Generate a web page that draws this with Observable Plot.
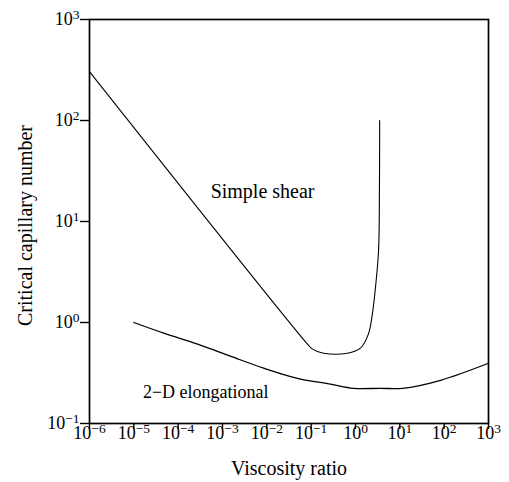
<!DOCTYPE html>
<html><head><meta charset="utf-8">
<script src="https://cdn.jsdelivr.net/npm/d3@7"></script>
<script src="https://cdn.jsdelivr.net/npm/@observablehq/plot@0.6"></script>
<style>body{margin:0;background:#fff} svg{display:block}</style>
</head><body><div id="chart"></div>
<script>
// Tick values
const xTicks = [1e-6, 1e-5, 1e-4, 1e-3, 1e-2, 1e-1, 1, 10, 100, 1000];
const yTicks = [0.1, 1, 10, 100, 1000];

// Simple shear curve (viscosity ratio, critical capillary number)
const shearX = [1e-6, 0.083, 0.107, 0.19, 0.66, 1.29, 1.95, 2.40, 2.82, 3.31, 3.47, 3.51];
const shearY = [305, 0.61, 0.545, 0.497, 0.497, 0.557, 0.767, 1.21, 2.22, 5.13, 23.4, 100];

// 2-D elongational curve
const elongX = [1e-5, 4.7e-5, 2.75e-4, 1.5e-3, 8.5e-3, 0.049, 0.275, 0.91, 3.6, 11.5, 83, 1000];
const elongY = [1.0, 0.785, 0.61, 0.465, 0.353, 0.28, 0.245, 0.223, 0.223, 0.223, 0.268, 0.395];

// Curve labels
const labelText = ["Simple shear", "2\u2212D elongational"];
const labelX = [5.4e-4, 1.6e-5];
const labelY = [17.1, 0.178];

const xLabel = "Viscosity ratio";
const yLabel = "Critical capillary number";

const shear = shearX.map((x, i) => ({x, y: shearY[i]}));
const elong = elongX.map((x, i) => ({x, y: elongY[i]}));
const labels = labelText.map((t, i) => ({t, x: labelX[i], y: labelY[i]}));

const fmt = d => "10^" + Math.round(Math.log10(d));

const chart = Plot.plot({
  width: 509,
  height: 482,
  marginLeft: 89,
  marginRight: 21,
  marginTop: 19,
  marginBottom: 59,
  style: {fontFamily: "'Liberation Serif', serif", fontSize: "17px", background: "#fff", color: "#000"},
  x: {type: "log", domain: [1e-6, 1e3]},
  y: {type: "log", domain: [0.1, 1000]},
  marks: [
    Plot.frame({stroke: "#000", strokeWidth: 1.7}),
    Plot.axisX(xTicks, {tickFormat: fmt, tickSize: 6, tickPadding: -3, label: null, strokeWidth: 1.4}),
    Plot.axisY(yTicks, {tickFormat: fmt, tickSize: 9, tickPadding: 1, label: null, strokeWidth: 1.4}),
    Plot.line(shear, {x: "x", y: "y", stroke: "#000", strokeWidth: 1.1, curve: "catmull-rom"}),
    Plot.line(elong, {x: "x", y: "y", stroke: "#000", strokeWidth: 1.3, curve: "catmull-rom"}),
    Plot.text(labels.slice(0, 1), {x: "x", y: "y", text: "t", fontSize: 20, textAnchor: "start", lineAnchor: "bottom"}),
    Plot.text(labels.slice(1), {x: "x", y: "y", text: "t", fontSize: 18, textAnchor: "start", lineAnchor: "bottom"}),
    Plot.text([xLabel], {text: d => d, frameAnchor: "bottom", textAnchor: "middle", dy: 51, lineAnchor: "bottom", fontSize: 20}),
    Plot.text([yLabel], {text: d => d, frameAnchor: "left", textAnchor: "middle", rotate: -90, dx: -58, dy: 4, lineAnchor: "bottom", fontSize: 20})
  ]
});

// superscript exponents in tick labels
const ns = "http://www.w3.org/2000/svg";
chart.querySelectorAll('g[aria-label="x-axis tick label"], g[aria-label="y-axis tick label"]').forEach(g => {
  g.setAttribute("font-size", "18");
  g.style.fontSize = "18px";
});
chart.querySelectorAll('g[aria-label="x-axis tick label"] text, g[aria-label="y-axis tick label"] text').forEach(t => {
  const s = t.textContent;
  if (!s.includes("^")) return;
  const [base, exp] = s.split("^");
  while (t.firstChild) t.removeChild(t.firstChild);
  t.style.fontSize = "18px";
  const a = document.createElementNS(ns, "tspan");
  a.textContent = base;
  a.style.fontSize = "18px";
  const b = document.createElementNS(ns, "tspan");
  b.textContent = exp.replace("-", "\u2212");
  b.setAttribute("dy", "-6");
  b.style.fontSize = "13.5px";
  t.appendChild(a);
  t.appendChild(b);
});

document.getElementById("chart").appendChild(chart);
</script>
</body></html>
